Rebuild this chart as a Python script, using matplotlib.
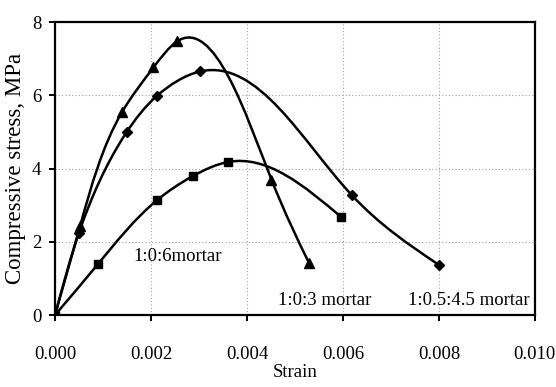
import numpy as np
import matplotlib
matplotlib.use("Agg")
import matplotlib.pyplot as plt
from matplotlib.path import Path
from matplotlib.patches import PathPatch

plt.rcParams['font.family'] = ['Liberation Serif', 'DejaVu Serif']

# 1:0:3 mortar (triangles)
strain_a = [0.0, 0.00052, 0.00140, 0.00205, 0.00254, 0.00451, 0.00529]
stress_a = [0.0, 2.42, 5.55, 6.76, 7.47, 3.70, 1.43]
# 1:0.5:4.5 mortar (diamonds)
strain_b = [0.0, 0.00050, 0.00149, 0.00212, 0.00302, 0.00618, 0.00801]
stress_b = [0.0, 2.25, 4.99, 5.98, 6.65, 3.28, 1.36]
# 1:0:6 mortar (squares)
strain_c = [0.0, 0.00090, 0.00212, 0.00288, 0.00361, 0.00596]
stress_c = [0.0, 1.40, 3.13, 3.80, 4.18, 2.68]

xticks = [0.000, 0.002, 0.004, 0.006, 0.008, 0.010]
yticks = [0, 2, 4, 6, 8]

# rough screen aspect, so the smoothing behaves like on the page
SX, SY = 480 / 0.010, 293 / 8.0


def smooth_path(x, y):
    # natural parametric spline through the points, drawn as bezier segments
    p = np.column_stack([np.asarray(x) * SX, np.asarray(y) * SY])
    n = len(p)
    d = np.diff(p, axis=0)
    h = np.hypot(d[:, 0], d[:, 1])
    A = np.zeros((n, n))
    r = np.zeros((n, 2))
    A[0, 0] = A[-1, -1] = 1.0
    for i in range(1, n - 1):
        A[i, i - 1] = h[i - 1]
        A[i, i] = 2 * (h[i - 1] + h[i])
        A[i, i + 1] = h[i]
        r[i] = 6 * (d[i] / h[i] - d[i - 1] / h[i - 1])
    M = np.linalg.solve(A, r)
    verts = [p[0]]
    codes = [Path.MOVETO]
    for i in range(n - 1):
        s = d[i] / h[i]
        d0 = s - h[i] * (2 * M[i] + M[i + 1]) / 6
        d1 = s + h[i] * (M[i] + 2 * M[i + 1]) / 6
        verts += [p[i] + d0 * h[i] / 3, p[i + 1] - d1 * h[i] / 3, p[i + 1]]
        codes += [Path.CURVE4] * 3
    verts = np.array(verts) / [SX, SY]
    return Path(verts, codes)


fig = plt.figure(figsize=(5.56, 3.87), dpi=100)
ax = fig.add_axes([0.099, 0.186, 0.863, 0.757])

for xs, ys, mk, ms in [(strain_a, stress_a, '^', 7),
                       (strain_b, stress_b, 'D', 5.5),
                       (strain_c, stress_c, 's', 5.5)]:
    ax.add_patch(PathPatch(smooth_path(xs, ys), facecolor='none',
                           edgecolor='black', lw=1.8, zorder=3))
    ax.plot(xs, ys, linestyle='none', marker=mk, ms=ms, color='black', zorder=4)

ax.set_xlim(0, 0.010)
ax.set_ylim(0, 8)
ax.set_xticks(xticks)
ax.set_xticklabels(['%.3f' % t for t in xticks])
ax.set_yticks(yticks)
ax.grid(True, linestyle=(0, (1, 2)), color='#a0a0a0', lw=0.8)
for s in ax.spines.values():
    s.set_linewidth(1.6)
ax.tick_params(direction='out', length=4, width=1.4, labelsize=13.5)
ax.tick_params(axis='x', pad=18)
ax.tick_params(axis='y', pad=6)

ax.set_xlabel('Strain', fontsize=13.5, labelpad=1)
ax.set_ylabel('Compressive stress, MPa', fontsize=16.5, labelpad=4)

ax.text(0.00163, 1.6, '1:0:6mortar', fontsize=13.5, va='center')
ax.text(0.00465, 0.4, '1:0:3 mortar', fontsize=13.5, va='center')
ax.text(0.0099, 0.4, '1:0.5:4.5 mortar', fontsize=13.5, va='center', ha='right')

fig.savefig('out.png', dpi=100)
